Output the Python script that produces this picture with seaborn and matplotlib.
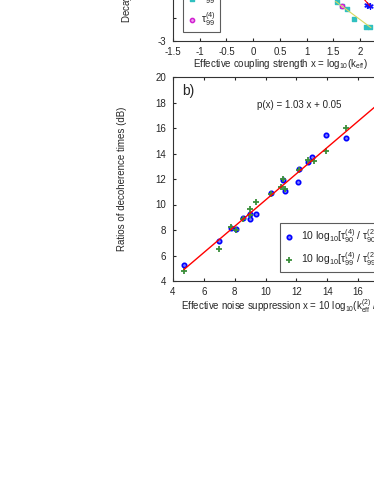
import matplotlib
matplotlib.use('Agg')
import matplotlib.pyplot as plt
import seaborn as sns
import pandas as pd

# DADOS - PAINEL SUPERIOR (visível apenas a parte inferior)
top_x_cyan = [1.56, 1.65, 1.76, 1.89, 2.11, 2.18]
top_y_cyan = [-1.29, -1.47, -1.62, -2.06, -2.40, -2.40]
top_x_mag = [1.66]
top_y_mag = [-1.47]
top_x_blue = [2.13, 2.18]
top_y_blue = [-1.43, -1.47]
fit_yellow_x = [1.54, 2.20]
fit_yellow_y = [-1.28, -2.42]
fit_red_x = [2.02, 2.18]
fit_red_y = [-1.05, -1.47]

# DADOS - PAINEL b)
x90 = [4.71, 7.0, 7.77, 8.09, 8.55, 8.98, 8.98, 9.37, 10.34, 11.12, 11.29, 12.12, 12.18, 12.75, 13.0, 13.9, 15.19]
y90 = [5.23, 7.14, 8.16, 8.10, 8.92, 9.23, 8.89, 9.28, 10.93, 11.92, 11.06, 11.74, 12.81, 13.33, 13.75, 15.43, 15.24]
x99 = [4.71, 7.0, 7.77, 8.09, 8.55, 8.98, 8.98, 9.37, 10.34, 11.01, 11.12, 11.29, 12.18, 12.75, 13.17, 13.9, 15.19]
y99 = [4.78, 6.51, 8.26, 8.00, 8.89, 9.67, 9.15, 10.2, 10.85, 11.4, 12.03, 11.19, 12.7, 13.5, 13.44, 14.22, 16.03]
fit_a, fit_b = 1.03, 0.05
fit_x = [4.71, 19.0]

sns.set_style('ticks')
plt.rcParams['font.family'] = ['Liberation Sans', 'DejaVu Sans']
plt.rcParams['mathtext.fontset'] = 'custom'
plt.rcParams['mathtext.rm'] = 'Liberation Sans'
plt.rcParams['mathtext.it'] = 'Liberation Sans:italic'
plt.rcParams['font.size'] = 7
plt.rcParams['xtick.direction'] = 'in'
plt.rcParams['ytick.direction'] = 'in'
plt.rcParams['xtick.major.size'] = 2.5
plt.rcParams['ytick.major.size'] = 2.5
plt.rcParams['axes.linewidth'] = 0.8
plt.rcParams['axes.edgecolor'] = '#333333'

W, H = 374, 484
fig = plt.figure(figsize=(W / 100, H / 100), dpi=100)

# PAINEL SUPERIOR
ax1 = fig.add_axes([173 / W, (H - 41) / H, 214 / W, 69 / H])
sns.lineplot(x=fit_yellow_x, y=fit_yellow_y, ax=ax1, color='#d8d860', lw=0.8)
sns.lineplot(x=fit_red_x, y=fit_red_y, ax=ax1, color='#ff0000', lw=0.8)
ax1.scatter(top_x_blue, top_y_blue, marker=(6, 2, 0), s=14, color='#1010ff', lw=1, label=r'$\mathrm{τ}_{90}^{(2)}$')
ax1.scatter([], [], marker='x', s=12, color='#ff2020', lw=1, label=r'$\mathrm{τ}_{90}^{(4)}$')
ax1.scatter(top_x_cyan, top_y_cyan, marker='s', s=8, color='#30c0c0', label=r'$\mathrm{τ}_{99}^{(2)}$')
ax1.scatter(top_x_mag, top_y_mag, marker='o', s=9, facecolors='#f0a0f0', edgecolors='#d020d0', lw=1.1, label=r'$\mathrm{τ}_{99}^{(4)}$')
ax1.set_xlim(-1.5, 2.5)
ax1.set_ylim(-3, 0)
ax1.set_xticks([-1.5, -1, -0.5, 0, 0.5, 1, 1.5, 2, 2.5])
ax1.set_xticklabels(['-1.5', '-1', '-0.5', '0', '0.5', '1', '1.5', '2', '2.5'])
ax1.set_yticks([-3, -2])
ax1.set_yticklabels(['-3', ''])
ax1.tick_params(top=True, right=True)
ax1.tick_params(axis='x', pad=4.5)
ax1.tick_params(axis='y', pad=5)
ax1.set_xlabel(r'Effective coupling strength x = log$_{10}$(k$_{\mathrm{eff}}$)', labelpad=0)
leg1 = ax1.legend(loc='lower left', bbox_to_anchor=((183 - 173) / 214, 9 / 69), borderaxespad=0, fontsize=7.5,
                  frameon=True, fancybox=False, edgecolor='#333333', handletextpad=0.3,
                  handlelength=1.0, borderpad=0.4, labelspacing=0.35)
leg1.get_frame().set_linewidth(0.8)
fig.text(127 / W, 1 - 23 / H, 'Decay times (log$_{10}$ s)', rotation=90, ha='center', va='bottom', fontsize=7)

# PAINEL b)
ax2 = fig.add_axes([173 / W, (H - 281) / H, 15 * 15.42 / W, 204 / H])
dados_fit = pd.DataFrame({'x': fit_x, 'y': [fit_a * v + fit_b for v in fit_x]})
sns.lineplot(data=dados_fit, x='x', y='y', ax=ax2, color='#ff0000', lw=1.0)
sns.scatterplot(x=x90, y=y90, ax=ax2, marker='o', s=10, facecolor='#7f7fff', edgecolor='#0000ff', linewidth=1.2,
                label=r'10 log$_{10}$[$\mathrm{τ}_{90}^{(4)}$ / $\mathrm{τ}_{90}^{(2)}$]')
sns.scatterplot(x=x99, y=y99, ax=ax2, marker='+', s=14, color='#3a8f3a', linewidth=1.3,
                label=r'10 log$_{10}$[$\mathrm{τ}_{99}^{(4)}$ / $\mathrm{τ}_{99}^{(2)}$]')
ax2.set_xlim(4, 19)
ax2.set_ylim(4, 20)
ax2.set_xticks(range(4, 19, 2))
ax2.set_yticks(range(4, 21, 2))
ax2.tick_params(top=True, right=True)
ax2.tick_params(axis='x', pad=4.5)
ax2.tick_params(axis='y', pad=5)
ax2.set_xlabel(r'Effective noise suppression x = 10 log$_{10}$(k$_{\mathrm{eff}}^{(2)}$ / k$_{\mathrm{eff}}^{(4)}$)', labelpad=0)
ax2.set_ylabel('Ratios of decoherence times (dB)')
ax2.yaxis.set_label_coords(-(173 - 127) / (15 * 15.42), 0.5)
ax2.text(0.04, 0.93, 'b)', transform=ax2.transAxes, fontsize=10, ha='left', va='center')
ax2.text(12.2, 17.8, 'p(x) = 1.03 x + 0.05', fontsize=7, ha='center', va='center')
leg2 = ax2.legend(loc='lower left', bbox_to_anchor=((280 - 173) / (15 * 15.42), 9 / 204), borderaxespad=0,
                  fontsize=7.5, frameon=True, fancybox=False, edgecolor='#333333', handletextpad=0.6,
                  handlelength=1.0, borderpad=0.4, labelspacing=0.5)
leg2.get_frame().set_linewidth(0.8)

plt.savefig('out.png', dpi=100)
